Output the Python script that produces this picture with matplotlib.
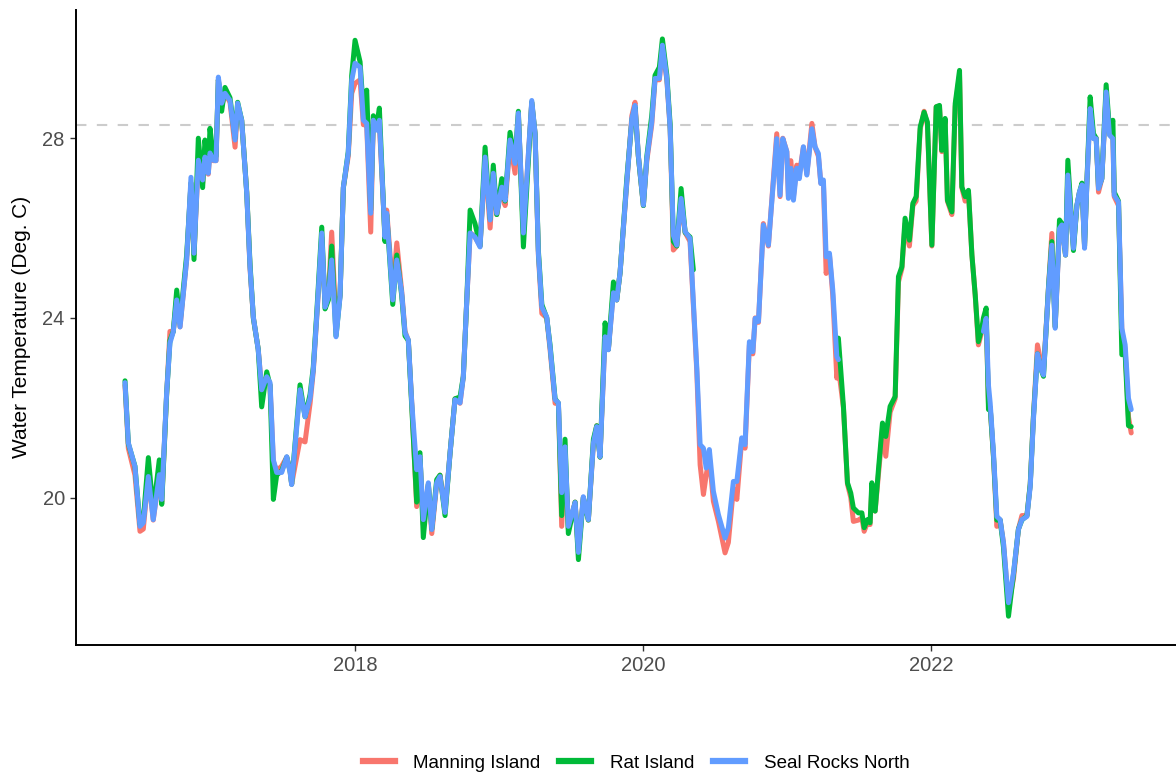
import matplotlib
matplotlib.use("Agg")
import matplotlib.pyplot as plt
from matplotlib.lines import Line2D

nan = float("nan")

# decimal year of each reading
year = [
    2016.403, 2016.426, 2016.472, 2016.507, 2016.530, 2016.565, 2016.599, 2016.641, 2016.658, 2016.692,
    2016.715, 2016.738, 2016.762, 2016.785, 2016.831, 2016.861, 2016.882, 2016.912, 2016.942, 2016.958,
    2016.981, 2016.993, 2017.016, 2017.035, 2017.051, 2017.074, 2017.097, 2017.132, 2017.167, 2017.185,
    2017.213, 2017.248, 2017.271, 2017.294, 2017.328, 2017.352, 2017.387, 2017.410, 2017.433, 2017.456,
    2017.491, 2017.526, 2017.549, 2017.560, 2017.618, 2017.653, 2017.688, 2017.710, 2017.734, 2017.769,
    2017.792, 2017.815, 2017.838, 2017.868, 2017.896, 2017.919, 2017.953, 2017.977, 2018.000, 2018.035,
    2018.058, 2018.081, 2018.109, 2018.127, 2018.151, 2018.169, 2018.208, 2018.220, 2018.262, 2018.290,
    2018.324, 2018.347, 2018.370, 2018.394, 2018.428, 2018.451, 2018.474, 2018.509, 2018.533, 2018.567,
    2018.590, 2018.625, 2018.660, 2018.694, 2018.729, 2018.752, 2018.776, 2018.799, 2018.833, 2018.868,
    2018.903, 2018.938, 2018.960, 2018.984, 2019.019, 2019.042, 2019.076, 2019.111, 2019.134, 2019.169,
    2019.227, 2019.250, 2019.273, 2019.297, 2019.331, 2019.354, 2019.389, 2019.412, 2019.435, 2019.458,
    2019.481, 2019.528, 2019.551, 2019.585, 2019.620, 2019.655, 2019.678, 2019.701, 2019.736, 2019.759,
    2019.794, 2019.817, 2019.840, 2019.887, 2019.922, 2019.944, 2019.967, 2020.002, 2020.026, 2020.060,
    2020.083, 2020.113, 2020.134, 2020.165, 2020.188, 2020.210, 2020.234, 2020.264, 2020.292, 2020.326,
    2020.349, 2020.373, 2020.396, 2020.419, 2020.438, 2020.460, 2020.488, 2020.523, 2020.569, 2020.592,
    2020.627, 2020.651, 2020.685, 2020.708, 2020.738, 2020.762, 2020.778, 2020.801, 2020.835, 2020.870,
    2020.928, 2020.951, 2020.970, 2020.998, 2021.009, 2021.026, 2021.044, 2021.067, 2021.085, 2021.113,
    2021.137, 2021.172, 2021.194, 2021.217, 2021.234, 2021.252, 2021.271, 2021.294, 2021.317, 2021.345,
    2021.356, 2021.391, 2021.419, 2021.442, 2021.460, 2021.495, 2021.519, 2021.535, 2021.558, 2021.576,
    2021.588, 2021.611, 2021.634, 2021.662, 2021.685, 2021.715, 2021.750, 2021.773, 2021.797, 2021.819,
    2021.849, 2021.873, 2021.896, 2021.924, 2021.951, 2021.974, 2022.005, 2022.035, 2022.058, 2022.074,
    2022.097, 2022.113, 2022.144, 2022.167, 2022.197, 2022.213, 2022.236, 2022.259, 2022.283, 2022.306,
    2022.328, 2022.352, 2022.363, 2022.382, 2022.398, 2022.410, 2022.433, 2022.456, 2022.479, 2022.502,
    2022.537, 2022.572, 2022.606, 2022.630, 2022.665, 2022.688, 2022.710, 2022.738, 2022.769, 2022.780,
    2022.815, 2022.838, 2022.861, 2022.891, 2022.908, 2022.933, 2022.949, 2022.988, 2023.012, 2023.030,
    2023.047, 2023.065, 2023.081, 2023.104, 2023.127, 2023.146, 2023.162, 2023.185, 2023.215, 2023.238,
    2023.262, 2023.271, 2023.301, 2023.324, 2023.347, 2023.370, 2023.389,
]

seal_rocks = [
    22.56, 21.22, 20.69, 19.36, 19.44, 20.47, 19.51, 20.51, 19.96, 22.33,
    23.44, 23.69, 24.40, 23.80, 25.29, 27.13, 25.44, 27.51, 27.07, 27.58,
    27.22, 27.67, 27.51, 27.50, 29.36, 28.78, 29.00, 28.84, 27.96, 28.78,
    28.40, 26.78, 25.13, 24.02, 23.29, 22.40, 22.69, 22.56, 20.84, 20.56,
    20.56, 20.91, 20.56, 20.29, 22.40, 21.80, 22.22, 22.84, 24.02, 25.89,
    24.24, 24.47, 25.29, 23.58, 24.47, 26.91, 27.67, 29.29, 29.67, 29.58,
    28.40, 28.33, 26.33, 28.40, 28.18, 28.40, 25.80, 26.33, 24.40, 25.29,
    24.56, 23.67, 23.51, 22.11, 20.62, 20.91, 19.51, 20.33, 19.29, 20.33,
    20.47, 19.67, 21.00, 22.18, 22.11, 22.69, 24.40, 25.89, 25.80, 25.58,
    27.58, 26.18, 27.22, 26.33, 26.91, 26.62, 27.96, 27.44, 28.56, 25.89,
    28.84, 28.11, 25.44, 24.24, 24.02, 23.36, 22.18, 22.11, 20.11, 21.13,
    19.36, 19.89, 18.78, 20.02, 19.51, 21.22, 21.58, 20.91, 23.58, 23.29,
    24.56, 24.40, 25.00, 27.03, 28.44, 28.73, 27.62, 26.51, 27.55, 28.36,
    29.33, 29.33, 30.07, 29.33, 28.21, 25.84, 25.62, 26.66, 25.92, 25.77,
    24.36, 22.88, 21.18, 21.10, 20.66, 21.07, 20.14, 19.62, 19.10, 19.33,
    20.36, 20.36, 21.33, 21.18, 23.47, 23.25, 23.99, 23.92, 26.07, 25.62,
    27.99, 26.73, 27.99, 27.70, 26.66, 27.33, 26.62, 27.33, 27.10, 27.81,
    27.18, 28.21, 27.81, 27.66, 26.99, 27.07, 25.36, 25.44, 24.62, 23.14,
    23.07, nan, nan, nan, nan, nan, nan, nan, nan, nan,
    nan, nan, nan, nan, nan, nan, nan, nan, nan, nan,
    nan, nan, nan, nan, nan, nan, nan, nan, nan, nan,
    nan, nan, nan, nan, nan, nan, nan, nan, nan, nan,
    nan, nan, 23.70, 23.99, 22.50, 22.10, 20.99, 19.58, 19.51, 19.00,
    17.66, 18.33, 19.29, 19.51, 19.58, 20.25, 21.73, 23.20, 22.81, 22.73,
    24.66, 25.62, 23.77, 25.99, 26.07, 25.40, 27.18, 25.55, 26.51, 26.81,
    26.96, 25.55, 26.96, 28.66, 27.99, 27.99, 26.88, 27.10, 29.03, 28.07,
    27.99, 26.73, 26.58, 23.77, 23.40, 22.21, 21.96,
]

manning = [
    22.50, 21.10, 20.50, 19.25, 19.30, 20.50, 19.50, 20.50, 19.90, 22.30,
    23.70, 23.70, 24.40, 23.80, 25.30, 27.00, 25.40, 27.50, 27.00, 27.60,
    27.20, 27.70, 27.50, 27.50, 29.30, 28.70, 29.00, 28.80, 27.80, 28.70,
    28.40, 26.80, 25.10, 24.00, 23.30, 22.40, 22.70, 22.50, 20.80, 20.60,
    20.70, 20.90, 20.60, 20.30, 21.29, 21.24, 22.10, 22.80, 24.00, 25.80,
    24.30, 24.50, 25.91, 23.90, 24.50, 26.90, 27.60, 29.00, 29.22, 29.30,
    28.30, 28.30, 25.91, 28.40, 28.20, 28.30, 25.80, 26.40, 24.60, 25.67,
    24.60, 23.70, 23.50, 22.10, 19.80, 20.90, 19.40, 20.30, 19.20, 20.30,
    20.50, 19.70, 21.00, 22.20, 22.10, 22.70, 24.40, 25.90, 25.80, 25.60,
    27.50, 26.00, 27.20, 26.30, 26.90, 26.50, 27.90, 27.22, 28.50, 25.90,
    28.80, 28.10, 25.40, 24.10, 24.00, 23.30, 22.10, 22.10, 19.36, 21.00,
    19.30, 19.90, 18.80, 20.00, 19.50, 21.20, 21.60, 20.90, 23.60, 23.30,
    24.60, 24.40, 25.00, 27.00, 28.50, 28.80, 27.60, 26.50, 27.50, 28.30,
    29.30, 29.30, 30.00, 29.30, 28.20, 25.51, 25.60, 26.60, 25.90, 25.70,
    24.30, 22.80, 20.73, 20.07, 20.50, 20.90, 19.92, 19.47, 18.77, 19.00,
    20.20, 19.96, 21.30, 21.10, 23.40, 23.20, 24.00, 23.90, 26.10, 25.60,
    28.10, 26.70, 28.00, 27.70, 26.70, 27.50, 26.70, 27.40, 27.20, 27.80,
    27.20, 28.33, 27.80, 27.60, 27.00, 27.00, 24.99, 25.40, 24.50, 22.66,
    22.90, 22.00, 20.30, 20.00, 19.47, 19.50, 19.55, 19.25, 19.45, 19.40,
    20.20, 19.70, 20.50, 21.50, 20.92, 21.90, 22.20, 24.80, 25.10, 26.10,
    25.60, 26.50, 26.60, 28.20, 28.60, 28.30, 25.60, 28.70, 28.70, 27.70,
    28.40, 26.60, 26.30, 28.70, 29.40, 26.90, 26.60, 26.80, 25.40, 24.50,
    23.40, 23.70, 23.80, 24.00, 22.10, 22.00, 20.90, 19.36, 19.50, 19.00,
    17.60, 18.20, 19.30, 19.60, 19.60, 20.30, 21.80, 23.40, 22.90, 22.80,
    24.70, 25.88, 23.80, 26.00, 26.10, 25.40, 27.20, 25.60, 26.50, 26.80,
    26.90, 25.60, 27.00, 28.70, 28.00, 28.00, 26.80, 27.10, 29.00, 28.10,
    28.00, 26.70, 26.50, 23.70, 23.30, 21.80, 21.44,
]

rat_island = [
    22.60, 21.20, 20.70, 19.40, 19.50, 20.89, 19.70, 20.84, 19.85, 22.30,
    23.50, 23.70, 24.62, 23.90, 25.40, 27.00, 25.30, 28.00, 26.90, 27.96,
    27.30, 28.22, 27.60, 27.60, 29.30, 28.60, 29.13, 28.90, 28.00, 28.80,
    28.40, 26.80, 25.20, 24.00, 23.30, 22.02, 22.80, 22.50, 19.96, 20.50,
    20.60, 20.90, 20.60, 20.30, 22.51, 21.80, 22.30, 22.90, 24.10, 26.02,
    24.20, 24.40, 25.60, 23.60, 24.50, 26.90, 27.70, 29.40, 30.18, 29.70,
    28.60, 29.07, 26.40, 28.50, 28.30, 28.67, 25.70, 26.30, 24.30, 25.40,
    24.50, 23.60, 23.50, 22.00, 19.90, 21.00, 19.11, 20.30, 19.30, 20.40,
    20.50, 19.60, 21.00, 22.20, 22.24, 22.70, 24.40, 26.40, 26.10, 25.60,
    27.80, 26.20, 27.40, 26.30, 27.10, 26.60, 28.13, 27.50, 28.60, 25.58,
    28.80, 28.10, 25.50, 24.30, 24.00, 23.40, 22.20, 22.10, 19.60, 21.30,
    19.20, 19.90, 18.62, 20.00, 19.50, 21.30, 21.60, 20.90, 23.89, 23.30,
    24.80, 24.40, 25.00, 27.10, 28.40, 28.70, 27.60, 26.50, 27.60, 28.50,
    29.40, 29.58, 30.21, 29.40, 28.30, 25.70, 25.60, 26.88, 25.90, 25.80,
    25.07, nan, nan, nan, nan, nan, nan, nan, nan, nan,
    nan, nan, nan, nan, nan, nan, nan, nan, nan, nan,
    nan, nan, nan, nan, nan, nan, nan, nan, nan, nan,
    nan, nan, nan, nan, nan, nan, nan, nan, nan, nan,
    23.55, 22.03, 20.33, 20.10, 19.77, 19.66, 19.66, 19.33, 19.51, 19.44,
    20.33, 19.70, 20.62, 21.66, 21.36, 22.03, 22.25, 24.92, 25.14, 26.22,
    25.73, 26.55, 26.70, 28.25, 28.58, 28.36, 25.62, 28.70, 28.73, 27.73,
    28.44, 26.62, 26.36, 28.77, 29.51, 26.92, 26.70, 26.84, 25.40, 24.51,
    23.47, 23.77, 24.00, 24.22, 21.96, 22.00, 20.90, 19.50, 19.50, 18.90,
    17.36, 18.30, 19.30, 19.50, 19.60, 20.30, 21.80, 23.20, 22.80, 22.70,
    24.70, 25.70, 23.80, 26.18, 26.10, 25.40, 27.51, 25.50, 26.50, 26.80,
    27.00, 25.60, 27.00, 28.92, 28.10, 28.00, 26.90, 27.10, 29.19, 28.20,
    28.40, 26.80, 26.60, 23.18, 23.20, 21.60, 21.58,
]

site_names = ["Manning Island", "Rat Island", "Seal Rocks North"]
site_colors = ["#F8766D", "#00BA38", "#619CFF"]
threshold = 28.29
x_ticks = [2018, 2020, 2022]
y_ticks = [20, 24, 28]

plt.rcParams["font.family"] = ["Liberation Sans", "DejaVu Sans"]

fig = plt.figure(figsize=(11.76, 7.78), dpi=100)
ax = fig.add_axes([0.0646, 0.171, 0.9354, 0.8165])

ax.axhline(threshold, color="#cccccc", linewidth=1.5, linestyle=(0, (5, 5)), zorder=1)

for series, name, col in zip([manning, rat_island, seal_rocks], site_names, site_colors):
    ax.plot(year, series, color=col, linewidth=3.6, label=name, zorder=2,
            solid_joinstyle="round", solid_capstyle="round")

ax.set_xlim(2016.0625, 2023.70)
ax.set_ylim(16.72, 30.86)
ax.set_xticks(x_ticks)
ax.set_xticklabels([str(t) for t in x_ticks])
ax.set_yticks(y_ticks)

for s in ["top", "right"]:
    ax.spines[s].set_visible(False)
for s in ["left", "bottom"]:
    ax.spines[s].set_linewidth(1.4)
    ax.spines[s].set_color("black")

ax.tick_params(axis="both", length=4, width=1, color="#333333", labelcolor="#4d4d4d",
               labelsize=14.5, pad=4)
ax.set_ylabel("Water Temperature (Deg. C)", fontsize=15, color="black", labelpad=8)

handles = [Line2D([0], [0], color=c, linewidth=4.5) for c in site_colors]
fig.legend(handles, site_names, loc="center", bbox_to_anchor=(636 / 1176, 1 - 763 / 778),
           ncol=3, frameon=False, fontsize=13.5, handlelength=1.7, columnspacing=1.0,
           handletextpad=1.0)

fig.savefig("out.png", dpi=100)
